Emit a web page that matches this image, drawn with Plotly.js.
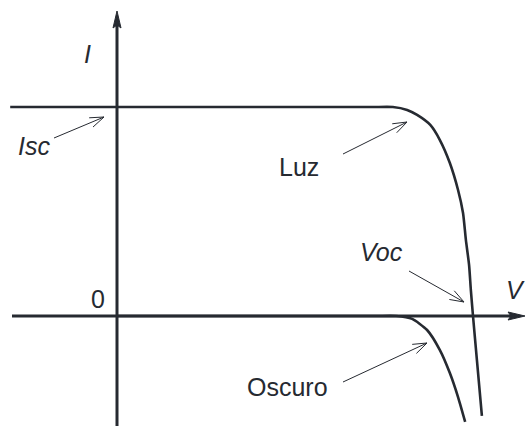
<!DOCTYPE html>
<html><head><meta charset="utf-8">
<script src="https://cdn.plot.ly/plotly-3.0.1.min.js"></script>
<style>html,body{margin:0;padding:0;background:#fff;}#chart{width:525px;height:426px;}</style>
</head><body><div id="chart"></div>
<script>
// Data in normalised units (V / Voc, I / Isc)
const lightV = [-0.30, 0.0, 0.30, 0.60, 0.72, 0.775, 0.815, 0.843, 0.880, 0.907, 0.935, 0.958, 0.972, 0.980, 0.989, 0.994, 1.000, 1.011, 1.025];
const lightI = [1.0, 1.0, 1.0, 1.0, 1.0, 1.0, 0.986, 0.962, 0.914, 0.842, 0.732, 0.603, 0.493, 0.364, 0.244, 0.124, 0, -0.211, -0.478];
const darkV = [0, 0.30, 0.60, 0.73, 0.784, 0.829, 0.871, 0.907, 0.935, 0.958, 0.978];
const darkI = [0, 0, 0, 0, 0, -0.014, -0.067, -0.163, -0.273, -0.388, -0.507];
const curveNames = ['Luz', 'Oscuro'];
const axisLabels = ['V', 'I'];
const pointLabels = ['Isc', 'Voc'];
const originLabel = '0';

// layout helpers (pixel -> data)
const W = 525, H = 426, OX = 117, OY = 316, SX = 356, SY = 209;
const vx = px => (px - OX) / SX;
const iy = py => (OY - py) / SY;
const INK = '#262a31';
const FONT = 'Liberation Sans, Arial, sans-serif';

const traces = [
  {x: lightV, y: lightI, mode: 'lines', name: curveNames[0],
   line: {color: INK, width: 2.6, shape: 'spline', smoothing: 0.6}, hoverinfo: 'skip'},
  {x: darkV, y: darkI, mode: 'lines', name: curveNames[1],
   line: {color: INK, width: 2.6, shape: 'spline', smoothing: 0.6}, hoverinfo: 'skip'}
];

const shapes = [];
function pline(x0, y0, x1, y1, w) {
  shapes.push({type: 'line', xref: 'x', yref: 'y', x0: vx(x0), y0: iy(y0), x1: vx(x1), y1: iy(y1),
               line: {color: INK, width: w}});
}
function ppath(pts) {
  const d = pts.map((p, k) => (k ? 'L' : 'M') + vx(p[0]) + ',' + iy(p[1])).join(' ') + ' Z';
  shapes.push({type: 'path', xref: 'x', yref: 'y', path: d, fillcolor: INK, line: {color: INK, width: 1}});
}
// axes
pline(12, OY, 512, OY, 3);
ppath([[525, OY], [508, OY - 4], [511, OY], [508, OY + 4]]);
pline(OX, 426, OX, 25, 3);
ppath([[OX, 11], [OX - 4, 28], [OX, 25], [OX + 4, 28]]);

// thin pointer arrows with open chevron heads
function pointer(sx, sy, tx, ty) {
  pline(sx, sy, tx, ty, 1);
  const dx = tx - sx, dy = ty - sy, L = Math.hypot(dx, dy);
  const ux = dx / L, uy = dy / L, nx = -uy, ny = ux;
  const back = 14, half = 5;
  pline(tx, ty, tx - back * ux + half * nx, ty - back * uy + half * ny, 1);
  pline(tx, ty, tx - back * ux - half * nx, ty - back * uy - half * ny, 1);
}
pointer(54, 138, 104, 117);
pointer(343, 154, 407, 122);
pointer(409, 271, 464, 302);
pointer(343, 382, 427, 343);

const annotations = [];
function label(text, px, py, italic) {
  annotations.push({text: text, x: vx(px), y: iy(py), xref: 'x', yref: 'y', showarrow: false,
    xanchor: 'center', yanchor: 'middle',
    font: {family: FONT, size: 25, color: INK, style: italic ? 'italic' : 'normal'}});
}
label(axisLabels[1], 87, 54, true);
label(axisLabels[0], 515, 290, true);
label(originLabel, 98, 299, false);
label(pointLabels[0], 34, 146, true);
label(pointLabels[1], 381, 252, true);
label(curveNames[0], 299, 167, false);
label(curveNames[1], 287, 387, false);

const layout = {
  width: W, height: H, margin: {l: 0, r: 0, t: 0, b: 0},
  paper_bgcolor: '#ffffff', plot_bgcolor: '#ffffff', showlegend: false,
  xaxis: {range: [vx(0), vx(W)], visible: false, fixedrange: true},
  yaxis: {range: [iy(H), iy(0)], visible: false, fixedrange: true},
  shapes: shapes, annotations: annotations
};
Plotly.newPlot('chart', traces, layout, {displayModeBar: false, staticPlot: true});
</script></body></html>
